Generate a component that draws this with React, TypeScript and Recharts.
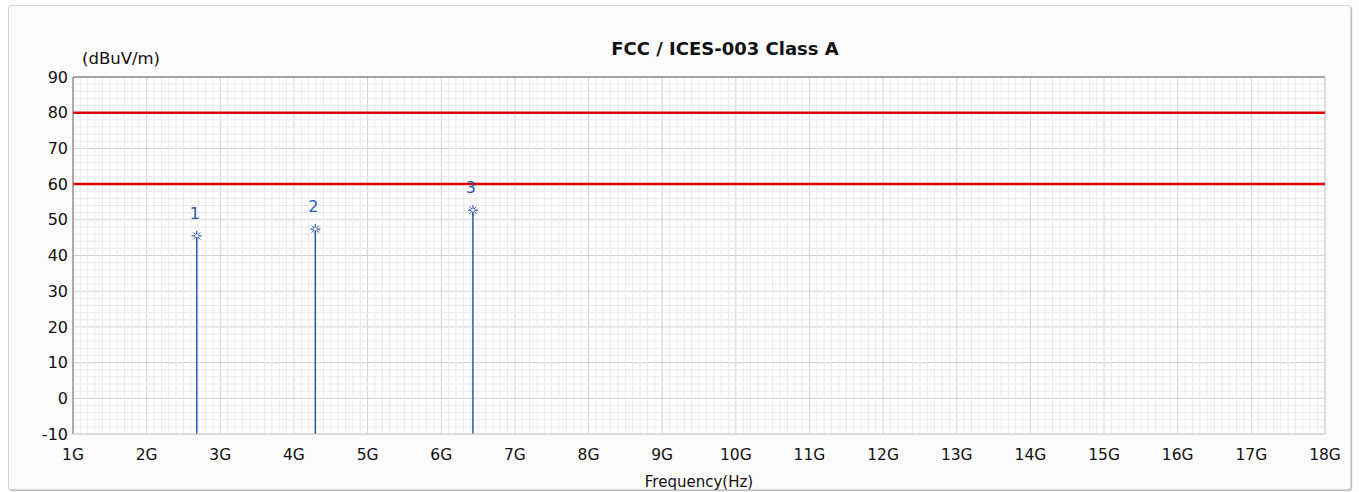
import React from "react";
import {
  ComposedChart,
  XAxis,
  YAxis,
  CartesianGrid,
  ReferenceLine,
  Scatter,
} from "recharts";

// axis ticks
const FREQ_TICKS = [1, 2, 3, 4, 5, 6, 7, 8, 9, 10, 11, 12, 13, 14, 15, 16, 17, 18];
const LEVEL_TICKS = [-10, 0, 10, 20, 30, 40, 50, 60, 70, 80, 90];

// limit lines (dBuV/m)
const LIMITS = [80, 60];

// peak markers
const MARKER_IDS = ["1", "2", "3"];
const MARKER_FREQ = [2.68, 4.29, 6.43];
const MARKER_LEVEL = [45.5, 47.4, 52.7];

// minor grid: 0.1G and 2 dB steps
const MINOR_X: number[] = [];
for (let i = 10; i <= 180; i++) if (i % 10 !== 0) MINOR_X.push(i / 10);
const MINOR_Y: number[] = [];
for (let v = -10; v <= 90; v += 2) if (v % 10 !== 0) MINOR_Y.push(v);

const markers = MARKER_IDS.map((id, i) => ({
  id,
  f: MARKER_FREQ[i],
  v: MARKER_LEVEL[i],
}));

const FONT = "'DejaVu Sans', Tahoma, sans-serif";
const BLUE = "#2a5aad";

const Star = (props: any) => {
  const { cx, cy, payload } = props;
  const r = 5;
  const d = r * 0.72;
  return (
    <g>
      <line x1={cx - r} y1={cy} x2={cx + r} y2={cy} stroke={BLUE} strokeWidth={1.2} />
      <line x1={cx} y1={cy - r} x2={cx} y2={cy + r} stroke={BLUE} strokeWidth={1.2} />
      <line x1={cx - d} y1={cy - d} x2={cx + d} y2={cy + d} stroke={BLUE} strokeWidth={1} />
      <line x1={cx - d} y1={cy + d} x2={cx + d} y2={cy - d} stroke={BLUE} strokeWidth={1} />
      <circle cx={cx} cy={cy} r={1.5} fill="#fff" />
      <text
        x={cx - 2}
        y={cy - 17}
        textAnchor="middle"
        fill={BLUE}
        fontSize={16}
        fontFamily={FONT}
      >
        {payload.id}
      </text>
    </g>
  );
};

const App: React.FC = () => {
  return (
    <div
      style={{
        position: "absolute",
        left: 0,
        top: 0,
        width: 1359,
        height: 492,
        background: "#fff",
        fontFamily: FONT,
      }}
    >
      {/* panel frame */}
      <div
        style={{
          position: "absolute",
          left: 8,
          top: 5,
          width: 1341,
          height: 483,
          border: "1px solid #d6d6d6",
          borderRadius: 3,
          background: "#fbfbfb",
          boxShadow: "1px 1px 1px #bbb",
        }}
      />
      <div style={{ position: "absolute", left: 0, top: 0 }}>
        <ComposedChart
          width={1359}
          height={492}
          margin={{ top: 77, right: 34, bottom: 0, left: 0 }}
        >
          <CartesianGrid fill="#fff" horizontal={false} vertical={false} />
          {MINOR_X.map((x) => (
            <ReferenceLine key={"mx" + x} x={x} stroke="#e9e9e9" strokeWidth={1} />
          ))}
          {MINOR_Y.map((y) => (
            <ReferenceLine key={"my" + y} y={y} stroke="#e9e9e9" strokeWidth={1} />
          ))}
          <CartesianGrid stroke="#d2d2d2" strokeWidth={1} />
          <XAxis
            type="number"
            dataKey="f"
            domain={[1, 18]}
            ticks={FREQ_TICKS}
            tickFormatter={(v) => `${v}G`}
            interval={0}
            allowDataOverflow
            height={58}
            axisLine={{ stroke: "#cfcfcf" }}
            tickLine={false}
            tick={{ fill: "#111", fontSize: 15.5, fontFamily: FONT, dy: 7 }}
            label={{
              value: "Frequency(Hz)",
              position: "insideBottom",
              offset: 5,
              fill: "#111",
              fontSize: 15,
              fontFamily: FONT,
            }}
          />
          <YAxis
            type="number"
            dataKey="v"
            domain={[-10, 90]}
            ticks={LEVEL_TICKS}
            interval={0}
            allowDataOverflow
            width={73}
            axisLine={{ stroke: "#6e6e6e" }}
            tickLine={false}
            tick={{ fill: "#111", fontSize: 16, fontFamily: FONT, dx: 3 }}
          />
          <ReferenceLine y={90} stroke="#8c8c8c" strokeWidth={1.5} />
          <ReferenceLine x={18} stroke="#cfcfcf" />
          {LIMITS.map((l) => (
            <ReferenceLine key={"lim" + l} y={l} stroke="#e00000" strokeWidth={2.5} />
          ))}
          {markers.map((m) => (
            <ReferenceLine
              key={"stem" + m.id}
              segment={[
                { x: m.f, y: -10 },
                { x: m.f, y: m.v },
              ]}
              stroke={BLUE}
              strokeWidth={1.5}
            />
          ))}
          <Scatter data={markers} shape={<Star />} isAnimationActive={false} />
        </ComposedChart>
      </div>
      <div
        style={{
          position: "absolute",
          left: 0,
          width: 1450,
          top: 38,
          textAlign: "center",
          fontWeight: "bold",
          fontSize: 18,
          color: "#111",
        }}
      >
        FCC / ICES-003 Class A
      </div>
      <div
        style={{
          position: "absolute",
          left: 82,
          top: 49,
          fontSize: 16.5,
          color: "#111",
        }}
      >
        (dBuV/m)
      </div>
    </div>
  );
};

export default App;
